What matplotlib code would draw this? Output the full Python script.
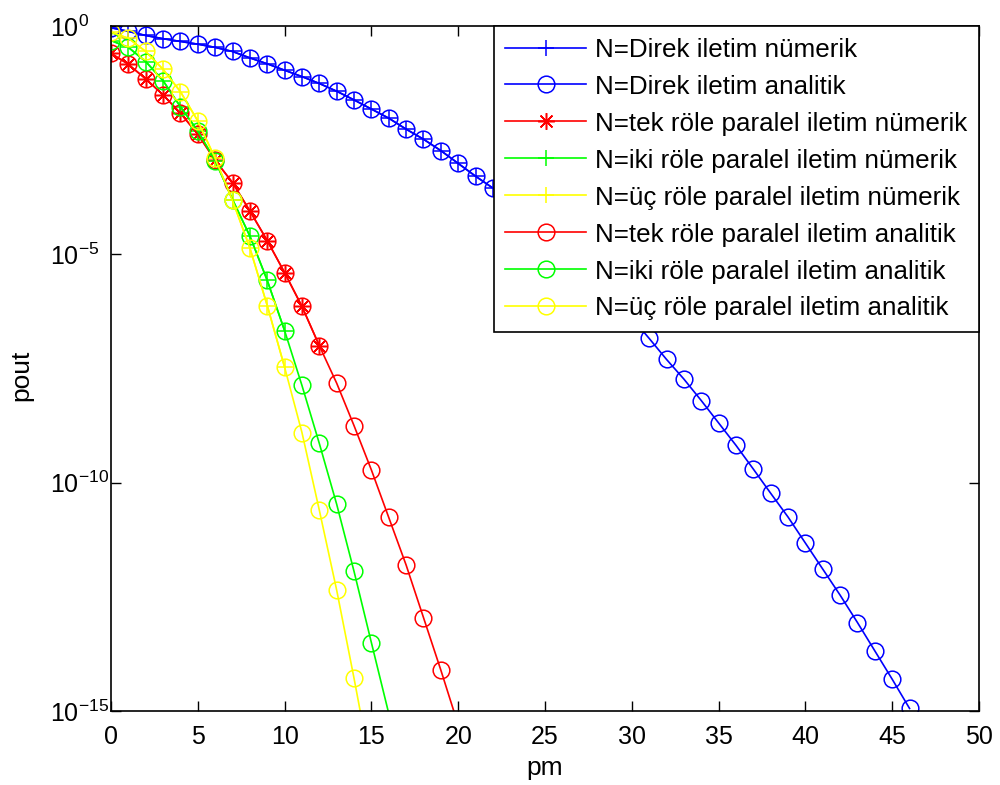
import numpy as np
import matplotlib
matplotlib.use("Agg")
import matplotlib.pyplot as plt

plt.rcParams["font.family"] = ["Liberation Sans", "DejaVu Sans"]
plt.rcParams["mathtext.fontset"] = "custom"
plt.rcParams["mathtext.rm"] = "Liberation Sans"
plt.rcParams["mathtext.it"] = "Liberation Sans"
plt.rcParams["axes.unicode_minus"] = False

# log10(pout), one value per integer pm
direk_log = [-0.04, -0.12, -0.21, -0.28, -0.34, -0.40, -0.47, -0.56, -0.70, -0.83,
             -0.97, -1.11, -1.26, -1.43, -1.62, -1.82, -2.02, -2.26, -2.48, -2.73,
             -3.01, -3.29, -3.55, -3.85, -4.17, -4.50, -4.85, -5.21, -5.59, -5.98,
             -6.39, -6.84, -7.30, -7.73, -8.20, -8.69, -9.18, -9.70, -10.23, -10.75,
             -11.32, -11.89, -12.46, -13.06, -13.68, -14.30, -14.94]
tek_log = [-0.60, -0.84, -1.16, -1.51, -1.91, -2.37, -2.94, -3.43, -4.05, -4.70,
           -5.40, -6.14, -7.00, -7.82, -8.75, -9.72, -10.76, -11.80, -12.95, -14.10,
           -15.30]
iki_log = [-0.32, -0.47, -0.78, -1.20, -1.77, -2.30, -2.95, -3.80, -4.60, -5.57,
           -6.67, -7.87, -9.14, -10.47, -11.94, -13.50, -15.05]
uc_log = [-0.14, -0.27, -0.56, -0.95, -1.44, -2.08, -2.90, -3.82, -4.86, -6.12,
          -7.47, -8.90, -10.60, -12.35, -14.28, -16.30]

# how many points the numerical (simulation) curves have
n_num_direk = 31
n_num_tek = 13
n_num_iki = 11
n_num_uc = 11

labels = [
    "N=Direk iletim nümerik",
    "N=Direk iletim analitik",
    "N=tek röle paralel iletim nümerik",
    "N=iki röle paralel iletim nümerik",
    "N=üç röle paralel iletim nümerik",
    "N=tek röle paralel iletim analitik",
    "N=iki röle paralel iletim analitik",
    "N=üç röle paralel iletim analitik",
]

ytick_exp = [0, -5, -10, -15]
YMIN, YMAX = 1e-15, 1e0


def curve(logs, n=None):
    y = np.power(10.0, np.array(logs))
    x = np.arange(len(y))
    if n is not None:
        x, y = x[:n], y[:n]
    # like matlab: no marker for points that fall outside the axes
    inside = [i for i, v in enumerate(y) if v >= YMIN]
    return x, y, inside


fig = plt.figure(figsize=(10, 7.85), dpi=100)
ax = fig.add_axes([0.111, 0.094, 0.868, 0.873])

ms = 12
lw = 1.2
asterisk = (8, 2, 0)
blue, red, green, yellow = "#0000ff", "#ff0000", "#00ff00", "#ffff00"

series = [
    (direk_log, n_num_direk, blue, "+"),
    (direk_log, None, blue, "o"),
    (tek_log, n_num_tek, red, asterisk),
    (iki_log, n_num_iki, green, "+"),
    (uc_log, n_num_uc, yellow, "+"),
    (tek_log, None, red, "o"),
    (iki_log, None, green, "o"),
    (uc_log, None, yellow, "o"),
]
for (logs, n, c, m), lab in zip(series, labels):
    x, y, inside = curve(logs, n)
    ax.semilogy(x, y, "-", color=c, marker=m, mfc="none", mec=c, ms=ms, lw=lw,
                mew=1.1, markevery=inside, label=lab)

ax.set_xlim(0, 50)
ax.set_ylim(YMIN, YMAX)
ax.set_xticks(np.arange(0, 51, 5))
ax.set_yticks([10.0 ** e for e in ytick_exp])
ax.set_yticklabels([r"$10^{%d}$" % e for e in ytick_exp], ha="left")
ax.yaxis.set_minor_locator(matplotlib.ticker.NullLocator())
ax.tick_params(direction="in", length=7, width=1, top=True, right=True,
               labelsize=18)
ax.tick_params(axis="x", pad=10)
ax.tick_params(axis="y", pad=44)
for s in ax.spines.values():
    s.set_linewidth(1.2)

ax.set_xlabel("pm", fontsize=19, labelpad=5)
ax.set_ylabel("pout", fontsize=19)
ax.yaxis.set_label_coords(-0.089, 0.49)

leg = ax.legend(loc="upper right", fontsize=18.7, borderaxespad=0, fancybox=False,
                framealpha=1, edgecolor="black", handlelength=3.1,
                handletextpad=0.35, labelspacing=0.5, borderpad=0.45)
leg.get_frame().set_linewidth(1.2)

plt.savefig("out.png", dpi=100)
plt.close()
